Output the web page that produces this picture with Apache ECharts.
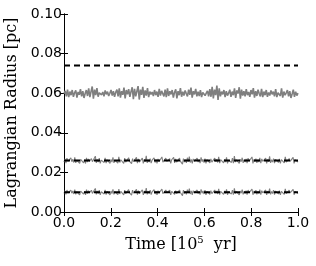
<!DOCTYPE html>
<html><head><meta charset="utf-8">
<script src="https://cdn.jsdelivr.net/npm/echarts@6/dist/echarts.min.js"></script>
<style>html,body{margin:0;padding:0;background:#fff}#c{width:316px;height:266px}</style>
</head><body><div id="c"></div>
<script>
// time range [10^5 yr]
const timeStart = 0.0, timeEnd = 1.0;
const xTicks = [0.0, 0.2, 0.4, 0.6, 0.8, 1.0];
const yTicks = [0.00, 0.02, 0.04, 0.06, 0.08, 0.10];

// Black dashed reference levels [pc]
const dashLevels = [0.074, 0.026, 0.010];

// Gray noisy Lagrangian radii [pc]
const outerRadius = [0.0598,0.0612,0.0584,0.0618,0.0580,0.0608,0.0590,0.0616,0.0582,0.0602,
0.0614,0.0578,0.0606,0.0592,0.0620,0.0584,0.0610,0.0576,0.0598,0.0616,
0.0586,0.0624,0.0580,0.0608,0.0634,0.0572,0.0618,0.0590,0.0626,0.0582,
0.0602,0.0612,0.0592,0.0606,0.0584,0.0614,0.0594,0.0608,0.0586,0.0600,
0.0616,0.0588,0.0610,0.0582,0.0604,0.0618,0.0584,0.0624,0.0578,0.0610,
0.0592,0.0628,0.0574,0.0616,0.0594,0.0620,0.0582,0.0608,0.0630,0.0570,
0.0622,0.0584,0.0610,0.0636,0.0568,0.0618,0.0592,0.0632,0.0576,0.0614,
0.0588,0.0626,0.0580,0.0608,0.0594,0.0606,0.0586,0.0616,0.0590,0.0608,
0.0582,0.0622,0.0588,0.0612,0.0598,0.0584,0.0618,0.0580,0.0624,0.0586,
0.0610,0.0594,0.0616,0.0578,0.0604,0.0620,0.0574,0.0610,0.0590,0.0626,
0.0582,0.0608,0.0588,0.0614,0.0598,0.0584,0.0618,0.0592,0.0628,0.0578,
0.0610,0.0594,0.0622,0.0584,0.0608,0.0586,0.0616,0.0580,0.0604,0.0614,
0.0588,0.0600,0.0612,0.0584,0.0620,0.0582,0.0632,0.0574,0.0618,0.0590,
0.0638,0.0566,0.0624,0.0584,0.0608,0.0594,0.0616,0.0580,0.0610,0.0588,
0.0600,0.0618,0.0582,0.0608,0.0590,0.0624,0.0576,0.0614,0.0598,0.0630,
0.0572,0.0618,0.0588,0.0610,0.0584,0.0620,0.0590,0.0606,0.0582,0.0616,
0.0594,0.0626,0.0578,0.0610,0.0586,0.0618,0.0598,0.0584,0.0622,0.0580,
0.0608,0.0590,0.0616,0.0582,0.0604,0.0588,0.0614,0.0594,0.0608,0.0584,
0.0620,0.0580,0.0602,0.0612,0.0586,0.0624,0.0578,0.0608,0.0590,0.0602,
0.0616,0.0584,0.0610,0.0576,0.0596,0.0618,0.0582,0.0608,0.0588,0.0600];
const midRadius = [0.0252,0.0268,0.0247,0.0272,0.0256,0.0264,0.0246,0.0273,0.0254,0.0266,
0.0250,0.0276,0.0248,0.0262,0.0254,0.0270,0.0246,0.0266,0.0258,0.0272,
0.0248,0.0264,0.0245,0.0274,0.0252,0.0268,0.0256,0.0247,0.0270,0.0254,
0.0264,0.0250,0.0282,0.0248,0.0266,0.0252,0.0272,0.0246,0.0262,0.0256,
0.0268,0.0250,0.0274,0.0247,0.0264,0.0254,0.0270,0.0245,0.0266,0.0252,
0.0276,0.0248,0.0262,0.0258,0.0270,0.0247,0.0279,0.0250,0.0264,0.0254,
0.0268,0.0246,0.0272,0.0252,0.0262,0.0248,0.0274,0.0256,0.0266,0.0244,
0.0270,0.0254,0.0264,0.0250,0.0276,0.0247,0.0268,0.0252,0.0262,0.0256,
0.0272,0.0246,0.0266,0.0254,0.0284,0.0248,0.0264,0.0252,0.0270,0.0247,
0.0262,0.0256,0.0274,0.0250,0.0266,0.0245,0.0268,0.0254,0.0264,0.0248,
0.0278,0.0252,0.0262,0.0247,0.0272,0.0256,0.0266,0.0250,0.0270,0.0246,
0.0264,0.0254,0.0276,0.0248,0.0268,0.0252,0.0260,0.0247,0.0272,0.0256,
0.0266,0.0242,0.0270,0.0252,0.0264,0.0248,0.0274,0.0254,0.0280,0.0250,
0.0266,0.0246,0.0268,0.0256,0.0262,0.0248,0.0272,0.0252,0.0264,0.0247,
0.0276,0.0254,0.0266,0.0250,0.0270,0.0246,0.0264,0.0256,0.0274,0.0248,
0.0268,0.0252,0.0262,0.0244,0.0272,0.0254,0.0266,0.0250,0.0279,0.0247,
0.0264,0.0256,0.0270,0.0248,0.0266,0.0252,0.0276,0.0246,0.0262,0.0254,
0.0268,0.0250,0.0272,0.0247,0.0283,0.0252,0.0264,0.0256,0.0270,0.0245,
0.0266,0.0254,0.0274,0.0248,0.0264,0.0252,0.0268,0.0247,0.0272,0.0256,
0.0262,0.0250,0.0278,0.0246,0.0266,0.0254,0.0270,0.0248,0.0264,0.0252,
0.0274,0.0247,0.0268,0.0256,0.0262,0.0250,0.0272,0.0245,0.0266,0.0254,
0.0281,0.0248,0.0264,0.0252,0.0270,0.0247,0.0266,0.0256,0.0274,0.0250,
0.0268,0.0246,0.0264,0.0254,0.0272,0.0248,0.0279,0.0252,0.0262,0.0247,
0.0270,0.0256,0.0266,0.0250,0.0276,0.0246,0.0264,0.0254,0.0268,0.0252];
const innerRadius = [0.0094,0.0107,0.0089,0.0111,0.0096,0.0104,0.0087,0.0110,0.0095,0.0106,
0.0091,0.0113,0.0089,0.0102,0.0095,0.0108,0.0086,0.0106,0.0098,0.0112,
0.0090,0.0104,0.0086,0.0113,0.0093,0.0108,0.0097,0.0088,0.0110,0.0094,
0.0104,0.0091,0.0119,0.0089,0.0106,0.0093,0.0111,0.0087,0.0102,0.0097,
0.0108,0.0091,0.0112,0.0088,0.0104,0.0095,0.0110,0.0086,0.0106,0.0093,
0.0114,0.0089,0.0102,0.0098,0.0109,0.0088,0.0116,0.0091,0.0104,0.0095,
0.0108,0.0087,0.0111,0.0093,0.0102,0.0089,0.0113,0.0097,0.0106,0.0085,
0.0110,0.0095,0.0104,0.0091,0.0114,0.0088,0.0108,0.0093,0.0102,0.0097,
0.0112,0.0087,0.0106,0.0095,0.0121,0.0089,0.0104,0.0093,0.0110,0.0088,
0.0102,0.0097,0.0113,0.0091,0.0106,0.0086,0.0108,0.0095,0.0104,0.0089,
0.0116,0.0093,0.0102,0.0088,0.0111,0.0097,0.0106,0.0091,0.0110,0.0087,
0.0104,0.0095,0.0114,0.0089,0.0108,0.0093,0.0100,0.0088,0.0111,0.0097,
0.0106,0.0083,0.0110,0.0093,0.0104,0.0089,0.0113,0.0095,0.0118,0.0091,
0.0106,0.0087,0.0108,0.0097,0.0102,0.0089,0.0111,0.0093,0.0104,0.0088,
0.0114,0.0095,0.0106,0.0091,0.0110,0.0087,0.0104,0.0097,0.0113,0.0089,
0.0108,0.0093,0.0102,0.0085,0.0111,0.0095,0.0106,0.0091,0.0117,0.0088,
0.0104,0.0097,0.0110,0.0089,0.0106,0.0093,0.0114,0.0087,0.0102,0.0095,
0.0108,0.0091,0.0111,0.0088,0.0120,0.0093,0.0104,0.0097,0.0110,0.0086,
0.0106,0.0095,0.0113,0.0089,0.0104,0.0093,0.0108,0.0088,0.0111,0.0097,
0.0102,0.0091,0.0116,0.0087,0.0106,0.0095,0.0110,0.0089,0.0104,0.0093,
0.0113,0.0088,0.0108,0.0097,0.0102,0.0091,0.0111,0.0086,0.0106,0.0095,
0.0118,0.0089,0.0104,0.0093,0.0110,0.0088,0.0106,0.0097,0.0113,0.0091,
0.0108,0.0087,0.0104,0.0095,0.0111,0.0089,0.0117,0.0093,0.0102,0.0088,
0.0110,0.0097,0.0106,0.0091,0.0114,0.0087,0.0104,0.0095,0.0108,0.0093];

function withTime(arr){
  return arr.map((v,i)=>[timeStart + (timeEnd-timeStart)*i/(arr.length-1), v]);
}

const chart = echarts.init(document.getElementById('c'), null, {renderer:'canvas'});
const axisLine = {show:true, lineStyle:{color:'#000', width:1}};
const tick = {show:true, inside:true, length:4, lineStyle:{color:'#000', width:1}};
const serif = '"DejaVu Serif", serif';
const sans = '"DejaVu Sans", sans-serif';

const series = [];
[outerRadius, midRadius, innerRadius].forEach((arr, k)=>{
  series.push({type:'line', data:withTime(arr), showSymbol:false, symbol:'none',
    lineStyle:{color:'#7f7f7f', width:k===0?1.6:1.1}, z:2, animation:false});
});
dashLevels.forEach(v=>{
  series.push({type:'line', data:[[timeStart,v],[timeEnd,v]], showSymbol:false, symbol:'none',
    lineStyle:{color:'#000', width:2, type:[6,4]}, z:3, animation:false});
});

chart.setOption({
  animation:false,
  grid:{left:64, right:18, top:14, bottom:54, containLabel:false, outerBoundsMode:'none'},
  xAxis:[{
    type:'value', min:xTicks[0], max:xTicks[xTicks.length-1], interval:0.2,
    axisLine, axisTick:tick, splitLine:{show:false},
    axisLabel:{formatter:v=>v.toFixed(1), color:'#000', fontFamily:sans, fontSize:14, margin:4},
    name:'Time [10{sup|5}  yr]', nameLocation:'middle', nameGap:23,
    nameTextStyle:{color:'#000', fontFamily:serif, fontSize:16, rich:{sup:{fontSize:10, verticalAlign:'top', padding:[0,0,9,0], fontFamily:serif, color:'#000'}}}
  },{
    type:'value', position:'top', min:xTicks[0], max:xTicks[xTicks.length-1], interval:0.2,
    axisLine, axisTick:tick, axisLabel:{show:false}, splitLine:{show:false}
  }],
  yAxis:[{
    type:'value', min:yTicks[0], max:yTicks[yTicks.length-1], interval:0.02,
    axisLine, axisTick:tick, splitLine:{show:false},
    axisLabel:{formatter:v=>v.toFixed(2), color:'#000', fontFamily:sans, fontSize:14, margin:2},
    name:'Lagrangian Radius [pc]', nameLocation:'middle', nameGap:38,
    nameTextStyle:{color:'#000', fontFamily:serif, fontSize:16}
  },{
    type:'value', position:'right', min:yTicks[0], max:yTicks[yTicks.length-1], interval:0.02,
    axisLine, axisTick:tick, axisLabel:{show:false}, splitLine:{show:false}
  }],
  series
});
</script></body></html>
